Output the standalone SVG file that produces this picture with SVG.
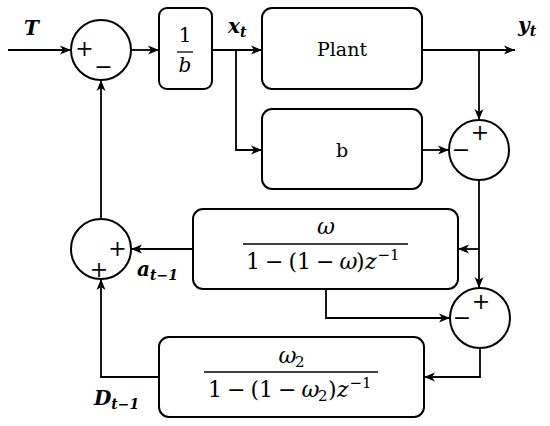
<svg xmlns="http://www.w3.org/2000/svg" width="550" height="426" viewBox="0 0 550 426">
<style>
.box{fill:#fff;stroke:#000;stroke-width:2}
.sum{fill:#fff;stroke:#000;stroke-width:2}
.ln{fill:none;stroke:#000;stroke-width:1.8}
.arr{marker-end:url(#ah)}
.m{font-family:'DejaVu Serif',serif;font-style:italic;fill:#000}
.r{font-family:'DejaVu Serif',serif;font-style:normal;fill:#000}
.lb{font-weight:bold}
.sg{font-family:'DejaVu Serif',serif;font-size:22px;text-anchor:middle;fill:#000}
.fl{stroke:#000;stroke-width:1.3}
</style>
<defs>
<marker id="ah" markerWidth="12" markerHeight="10" refX="11" refY="5" orient="auto" markerUnits="userSpaceOnUse">
<path d="M0,0.5 L11,5 L0,9.5 L3,5 z" fill="#000"/>
</marker>
</defs>

<g id="connectors">
<path class="ln arr" d="M8,50 H71"/>
<path class="ln arr" d="M131,50 H159"/>
<path class="ln arr" d="M212,50 H262"/>
<path class="ln arr" d="M236,50 V150 H262"/>
<path class="ln arr" d="M422,50 H515"/>
<path class="ln arr" d="M479,50 V120"/>
<path class="ln arr" d="M422,150 H449"/>
<path class="ln arr" d="M479,180 V288"/>
<path class="ln arr" d="M479,249 H458"/>
<path class="ln arr" d="M193,249 H131"/>
<path class="ln arr" d="M326,289 V318 H450"/>
<path class="ln arr" d="M480,348 V377 H424"/>
<path class="ln arr" d="M159,377 H101 V279"/>
<path class="ln arr" d="M101,219 V80"/>
</g>

<g id="labels">
<text class="m lb" x="24" y="35" font-size="20">T</text>
<text class="m lb" x="228" y="33" font-size="20">x<tspan font-size="14" dy="4">t</tspan></text>
<text class="m lb" x="518" y="32" font-size="20">y<tspan font-size="14" dy="4">t</tspan></text>
<text class="m lb" x="137" y="276" font-size="20">a<tspan font-size="14" dy="4">t−1</tspan></text>
<text class="m lb" x="94" y="405" font-size="20">D<tspan font-size="14" dy="4">t−1</tspan></text>
</g>

<g id="sum1">
<circle class="sum" cx="101" cy="50" r="30"/>
<text class="sg" x="84.5" y="56">+</text>
<text class="sg" x="103.5" y="74">−</text>
</g>

<g id="gain">
<rect class="box" x="159" y="8" width="53" height="81" rx="8"/>
<text class="r" x="185" y="42" font-size="20" text-anchor="middle">1</text>
<line class="fl" x1="177" y1="52" x2="193" y2="52"/>
<text class="m" x="185" y="72" font-size="20" text-anchor="middle">b</text>
</g>

<g id="plant">
<rect class="box" x="262" y="8" width="160" height="81" rx="10"/>
<text class="r" x="342" y="56" font-size="19" text-anchor="middle">Plant</text>
</g>

<g id="bblock">
<rect class="box" x="262" y="109" width="160" height="80" rx="10"/>
<text class="r" x="342" y="157" font-size="19" text-anchor="middle">b</text>
</g>

<g id="sum2">
<circle class="sum" cx="479" cy="150" r="30"/>
<text class="sg" x="480" y="140">+</text>
<text class="sg" x="461" y="157">−</text>
</g>

<g id="filter1">
<rect class="box" x="193" y="209" width="265" height="80" rx="10"/>
<text class="m" x="326" y="234" font-size="22" text-anchor="middle">ω</text>
<line class="fl" x1="243" y1="244" x2="408" y2="244"/>
<text font-size="22" y="269">
<tspan class="r" x="246">1</tspan><tspan class="r" x="265">−</tspan><tspan class="r" x="288.5">(</tspan><tspan class="r" x="297">1</tspan><tspan class="r" x="316">−</tspan><tspan class="m" x="339.5">ω</tspan><tspan class="r" x="356">)</tspan><tspan class="m" x="365">z</tspan><tspan class="r" x="377.5" font-size="15" dy="-9">−1</tspan>
</text>
</g>

<g id="sum3">
<circle class="sum" cx="101" cy="249" r="30"/>
<text class="sg" x="117.5" y="256">+</text>
<text class="sg" x="99" y="277">+</text>
</g>

<g id="sum4">
<circle class="sum" cx="480" cy="318" r="30"/>
<text class="sg" x="481" y="309">+</text>
<text class="sg" x="462" y="325">−</text>
</g>

<g id="filter2">
<rect class="box" x="159" y="337" width="265" height="80" rx="10"/>
<text class="m" y="363" font-size="22"><tspan x="278.5">ω</tspan><tspan class="r" x="295" font-size="15" dy="4">2</tspan></text>
<line class="fl" x1="204" y1="372" x2="378" y2="372"/>
<text font-size="22" y="397">
<tspan class="r" x="208">1</tspan><tspan class="r" x="227">−</tspan><tspan class="r" x="250.5">(</tspan><tspan class="r" x="259">1</tspan><tspan class="r" x="278">−</tspan><tspan class="m" x="301.5">ω</tspan><tspan class="r" x="318" font-size="15" dy="4">2</tspan><tspan class="r" x="328" dy="-4">)</tspan><tspan class="m" x="337">z</tspan><tspan class="r" x="349.5" font-size="15" dy="-9">−1</tspan>
</text>
</g>
</svg>
